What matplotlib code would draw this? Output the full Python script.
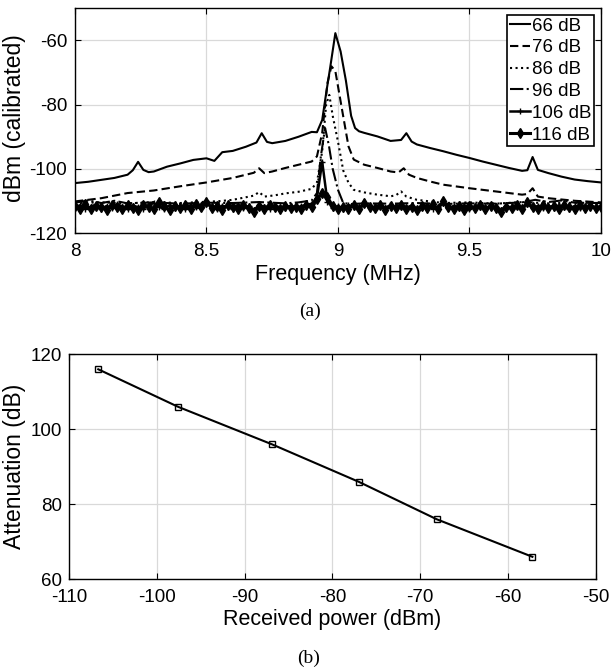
import numpy as np
import matplotlib
matplotlib.use("Agg")
from matplotlib import pyplot as plt

plt.rcParams["axes.unicode_minus"] = False

# (a) spectra, one list per attenuation setting
freq_66 = [8.0, 8.05, 8.1, 8.15, 8.2, 8.22, 8.24, 8.26, 8.28, 8.3, 8.35, 8.4, 8.45, 8.5, 8.53,
           8.56, 8.6, 8.65, 8.69, 8.71, 8.73, 8.75, 8.8, 8.85, 8.9, 8.92, 8.94, 8.955, 8.97, 8.99,
           9.01, 9.03, 9.05, 9.065, 9.08, 9.1, 9.15, 9.2, 9.24, 9.26, 9.28, 9.3, 9.35, 9.4, 9.45,
           9.5, 9.55, 9.6, 9.65, 9.7, 9.72, 9.74, 9.76, 9.8, 9.85, 9.9, 9.95, 10.0]
dbm_66 = [-104.4, -104.0, -103.4, -102.8, -101.8, -100.4, -97.8, -100.3, -101.0, -100.8, -99.3,
          -98.3, -97.2, -96.7, -97.5, -94.8, -94.4, -93.1, -91.8, -88.9, -91.6, -92.0, -91.3,
          -90.0, -88.5, -88.6, -84.8, -76.5, -68.7, -57.8, -63.5, -72.5, -83.5, -87.3, -88.3,
          -88.8, -89.9, -91.3, -91.0, -88.9, -91.5, -92.4, -93.5, -94.5, -95.6, -96.6, -97.7,
          -98.7, -99.7, -100.6, -100.4, -96.3, -100.3, -101.3, -102.4, -103.3, -103.8, -104.2]

freq_76 = [8.0, 8.1, 8.2, 8.3, 8.4, 8.5, 8.6, 8.65, 8.68, 8.7, 8.72, 8.75, 8.8, 8.85, 8.9,
           8.92, 8.94, 8.96, 8.975, 8.99, 9.0, 9.02, 9.04, 9.06, 9.1, 9.15, 9.2, 9.23, 9.25,
           9.27, 9.3, 9.35, 9.4, 9.5, 9.6, 9.7, 9.72, 9.74, 9.76, 9.8, 9.9, 10.0]
dbm_76 = [-110.1, -109.1, -107.5, -106.7, -105.4, -104.2, -102.8, -101.8, -101.2, -99.8,
          -101.3, -100.8, -99.7, -98.7, -97.7, -96.1, -88.8, -73.3, -68.1, -69.6, -74.3,
          -83.7, -93.0, -97.1, -98.7, -99.7, -100.8, -101.1, -99.8, -101.8, -102.8, -103.9,
          -104.9, -106.0, -107.0, -108.0, -107.8, -106.0, -108.6, -109.1, -109.9, -110.4]

freq_86 = [8.0, 8.1, 8.2, 8.3, 8.4, 8.5, 8.55, 8.6, 8.65, 8.68, 8.7, 8.72, 8.76, 8.8, 8.85,
           8.9, 8.92, 8.94, 8.955, 8.967, 8.98, 9.0, 9.02, 9.04, 9.06, 9.1, 9.15, 9.2, 9.22,
           9.24, 9.26, 9.3, 9.35, 9.4, 9.5, 9.6, 9.7, 9.8, 9.9, 10.0]
dbm_86 = [-110.6, -110.4, -110.7, -110.3, -110.6, -110.2, -110.0, -109.6, -108.8, -108.3,
          -107.2, -108.6, -108.2, -107.6, -107.1, -106.2, -104.2, -94.5, -80.0, -77.0,
          -83.5, -91.5, -100.5, -104.3, -106.5, -107.3, -108.0, -108.5, -108.2, -107.0,
          -108.6, -109.6, -110.1, -110.6, -110.4, -110.8, -110.3, -110.7, -110.5, -110.6]

freq_96 = [8.0, 8.05, 8.1, 8.15, 8.2, 8.3, 8.4, 8.5, 8.6, 8.7, 8.8, 8.85, 8.9, 8.92, 8.935,
           8.951, 8.965, 8.98, 9.0, 9.02, 9.05, 9.1, 9.2, 9.3, 9.4, 9.5, 9.6, 9.7, 9.75, 9.8,
           9.85, 9.9, 10.0]
dbm_96 = [-110.5, -109.8, -110.6, -109.9, -110.7, -110.4, -110.8, -110.5, -110.6, -110.3,
          -110.7, -110.4, -109.8, -107.5, -96.0, -87.3, -92.5, -100.0, -106.5, -110.6,
          -110.9, -110.7, -110.8, -110.6, -110.9, -110.7, -110.8, -110.4, -109.6, -110.3,
          -109.8, -110.5, -110.6]

# noise-floor traces, sampled every 0.02 MHz from 8 to 10
dbm_106 = [-112.0, -111.3, -112.4, -111.7, -111.1, -112.6, -111.5, -112.2, -111.0, -111.8,
           -112.5, -111.4, -111.9, -112.3, -111.2, -110.6, -111.8, -112.4, -111.3, -112.0,
           -111.6, -112.5, -111.2, -111.9, -112.2, -110.5, -111.7, -112.6, -111.4, -111.9,
           -112.3, -111.1, -112.0, -111.6, -112.8, -111.3, -111.8, -112.4, -111.5, -111.9,
           -112.2, -111.4, -112.0, -111.6, -111.2, -110.8, -109.0, -97.8, -110.2, -112.0,
           -111.6, -112.3, -111.2, -111.9, -112.4, -111.0, -111.7, -112.5, -111.4, -112.0,
           -111.3, -112.2, -111.8, -112.0, -111.4, -112.4, -111.7, -111.2, -112.3, -111.8,
           -110.6, -112.2, -111.5, -112.1, -111.3, -112.4, -111.7, -111.9, -112.2, -111.4,
           -111.9, -112.8, -111.4, -112.3, -111.6, -111.9, -110.9, -112.1, -111.5, -112.0,
           -111.6, -112.2, -111.3, -111.8, -112.4, -111.5, -112.0, -111.7, -111.3, -112.1,
           -111.8]
dbm_116 = [-111.5, -112.3, -111.0, -112.6, -111.4, -111.9, -112.8, -111.2, -111.7, -112.4,
           -111.3, -112.0, -112.7, -111.1, -111.8, -112.5, -110.2, -111.6, -112.9, -111.4,
           -112.1, -111.3, -112.6, -111.0, -111.9, -110.3, -112.2, -111.5, -112.8, -111.2,
           -111.8, -112.4, -111.1, -112.0, -113.4, -111.6, -112.3, -111.2, -111.9, -112.6,
           -111.4, -112.1, -111.7, -112.5, -111.2, -111.9, -109.5, -107.6, -108.8, -111.5,
           -112.4, -111.8, -112.3, -111.1, -112.6, -110.5, -111.9, -112.2, -111.3, -112.7,
           -111.5, -112.0, -111.2, -112.4, -111.8, -112.9, -111.4, -112.1, -111.0, -112.5,
           -110.1, -111.7, -112.3, -111.4, -112.8, -111.6, -112.0, -111.2, -112.6, -111.5,
           -112.2, -113.4, -111.8, -112.1, -111.3, -112.5, -110.4, -111.9, -112.3, -111.2,
           -112.0, -111.5, -112.6, -111.3, -111.9, -112.4, -111.1, -112.2, -111.6, -112.0,
           -111.7]
freq_noise = np.linspace(8, 10, len(dbm_116))

# (b) attenuation vs. received peak power
received_power = [-106.7, -97.6, -86.9, -77.0, -68.1, -57.2]
attenuation = [116, 106, 96, 86, 76, 66]

sans = "Liberation Sans"
tick_fs = 13.5
xlabel_fs = 15.5
ylabel_fs = 16.5
grid_col = "#d9d9d9"

fig = plt.figure(figsize=(6.13, 6.69), dpi=100)
ax1 = fig.add_axes([0.1223, 0.6513, 0.8581, 0.3367])
ax2 = fig.add_axes([0.1131, 0.1341, 0.8584, 0.3363])


def style_axes(ax):
    ax.grid(True, color=grid_col, linewidth=0.9)
    ax.set_axisbelow(True)
    ax.tick_params(direction="in", top=True, right=True, length=4, width=0.8,
                   labelsize=tick_fs)
    ax.tick_params(axis="x", pad=7)
    ax.tick_params(axis="y", pad=5.5)
    for lab in ax.get_xticklabels() + ax.get_yticklabels():
        lab.set_family(sans)
    for sp in ax.spines.values():
        sp.set_linewidth(1.0)


# top panel
lw = 1.5
ax1.plot(freq_66, dbm_66, color="black", lw=lw, label="66 dB")
ax1.plot(freq_76, dbm_76, color="black", lw=lw, dashes=(4, 2), label="76 dB")
ax1.plot(freq_86, dbm_86, color="black", lw=lw, linestyle=":", label="86 dB")
ax1.plot(freq_96, dbm_96, color="black", lw=lw, linestyle="-.", label="96 dB")
ax1.plot(freq_noise, dbm_106, color="black", lw=1.8, marker="+", markersize=5, label="106 dB")
ax1.plot(freq_noise, dbm_116, color="black", lw=2.2, marker="d", markersize=5, label="116 dB")

ax1.set_xlim(8, 10)
ax1.set_ylim(-120, -50)
ax1.set_xticks([8, 8.5, 9, 9.5, 10])
ax1.set_xticklabels(["8", "8.5", "9", "9.5", "10"])
ax1.set_yticks([-120, -100, -80, -60])
style_axes(ax1)
ax1.set_xlabel("Frequency (MHz)", fontsize=xlabel_fs, family=sans)
ax1.set_ylabel("dBm (calibrated)", fontsize=ylabel_fs, family=sans)
ax1.xaxis.set_label_coords(0.5, -0.135)
ax1.yaxis.set_label_coords(-0.093, 0.51)

leg = ax1.legend(loc="upper right", numpoints=1, handlelength=1.1, handletextpad=0.1,
                 borderpad=0.15, labelspacing=0.25, borderaxespad=0.35, fancybox=False,
                 framealpha=1, edgecolor="black", prop={"family": sans, "size": 13.5})
leg.get_frame().set_linewidth(1.2)

# bottom panel
ax2.plot(received_power, attenuation, color="black", lw=1.5, marker="s", markersize=4,
         markerfacecolor="none", markeredgewidth=1.0)
ax2.set_xlim(-110, -50)
ax2.set_ylim(60, 120)
ax2.set_xticks([-110, -100, -90, -80, -70, -60, -50])
ax2.set_yticks([60, 80, 100, 120])
style_axes(ax2)
ax2.set_xlabel("Received power (dBm)", fontsize=xlabel_fs, family=sans)
ax2.set_ylabel("Attenuation (dB)", fontsize=ylabel_fs, family=sans)
ax2.xaxis.set_label_coords(0.5, -0.134)
ax2.yaxis.set_label_coords(-0.082, 0.5)

fig.text(0.505, 1 - 311.7 / 669, "(a)", ha="center", va="center", fontsize=14,
         family="Liberation Serif")
fig.text(0.503, 1 - 658 / 669, "(b)", ha="center", va="center", fontsize=14,
         family="Liberation Serif")

fig.savefig("out.png", dpi=100)
